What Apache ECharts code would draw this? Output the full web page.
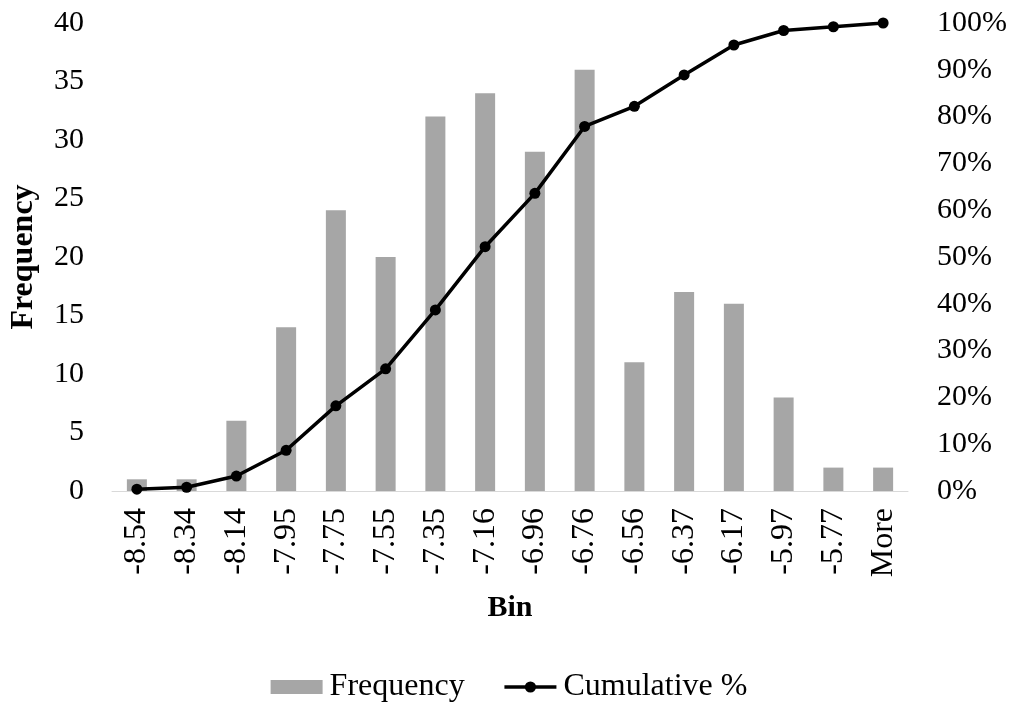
<!DOCTYPE html>
<html><head><meta charset="utf-8">
<script src="https://cdn.jsdelivr.net/npm/echarts@6/dist/echarts.min.js"></script>
<style>html,body{margin:0;padding:0;background:#fff}#c{width:1018px;height:706px}</style>
</head><body><div id="c"></div>
<script>
var bins = ['-8.54','-8.34','-8.14','-7.95','-7.75','-7.55','-7.35','-7.16','-6.96','-6.76','-6.56','-6.37','-6.17','-5.97','-5.77','More'];
var frequency = [1,1,6,14,24,20,32,34,29,36,11,17,16,8,2,2];
var cumulativePct = [0.4,0.8,3.2,8.7,18.2,26.1,38.7,52.2,63.6,77.9,82.2,88.9,95.3,98.4,99.2,100];
var font = 'Liberation Serif';
var chart = echarts.init(document.getElementById('c'));
chart.setOption({
  animation:false,
  textStyle:{fontFamily:font,color:'#000'},
  grid:{left:108,right:110,top:23,bottom:215},
  legend:{
    top:666,left:'center',itemGap:38,itemWidth:52,itemHeight:14,
    textStyle:{fontFamily:font,fontSize:32,color:'#000',padding:[0,0,0,2]},
    data:[{name:'Frequency',icon:'rect'},{name:'Cumulative %',lineStyle:{width:3.5,color:'#000'}}]
  },
  xAxis:{
    type:'category',data:bins,
    name:'Bin',nameLocation:'middle',nameGap:102,
    nameTextStyle:{fontFamily:font,fontSize:30,fontWeight:'bold',color:'#000'},
    axisLine:{lineStyle:{color:'#d9d9d9',width:1}},
    axisTick:{show:false},
    axisLabel:{rotate:90,fontFamily:font,fontSize:32,color:'#000',margin:17}
  },
  yAxis:[{
    type:'value',min:0,max:40,interval:5,
    name:'Frequency',nameLocation:'middle',nameGap:72,nameRotate:90,
    nameTextStyle:{fontFamily:font,fontSize:32,fontWeight:'bold',color:'#000'},
    axisLine:{show:false},axisTick:{show:false},splitLine:{show:false},
    axisLabel:{fontFamily:font,fontSize:30,color:'#000',margin:28}
  },{
    type:'value',min:0,max:100,interval:10,
    axisLine:{show:false},axisTick:{show:false},splitLine:{show:false},
    axisLabel:{fontFamily:font,fontSize:30,color:'#000',margin:29,formatter:'{value}%'}
  }],
  series:[{
    name:'Frequency',type:'bar',data:frequency,barWidth:20,
    itemStyle:{color:'#a6a6a6'}
  },{
    name:'Cumulative %',type:'line',yAxisIndex:1,data:cumulativePct,
    symbol:'circle',symbolSize:11,
    lineStyle:{color:'#000',width:3.5},itemStyle:{color:'#000'}
  }]
});
</script></body></html>
